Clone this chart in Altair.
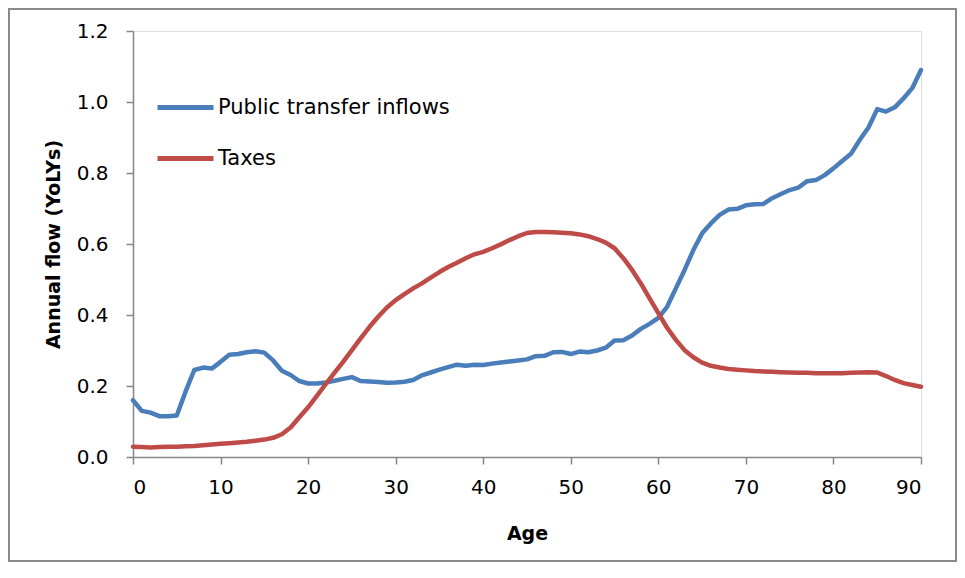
import altair as alt
import pandas as pd

ages = list(range(0, 91))

public_transfer_inflows = [
    0.160, 0.130, 0.125, 0.115, 0.115, 0.117, 0.184, 0.245, 0.252, 0.249,
    0.268, 0.288, 0.290, 0.295, 0.298, 0.294, 0.272, 0.243, 0.231, 0.214,
    0.207, 0.207, 0.210, 0.215, 0.220, 0.225, 0.214, 0.213, 0.211, 0.209,
    0.210, 0.212, 0.217, 0.230, 0.238, 0.246, 0.253, 0.260, 0.257, 0.260,
    0.259, 0.263, 0.266, 0.269, 0.272, 0.275, 0.284, 0.285, 0.295, 0.296,
    0.290, 0.297, 0.295, 0.300, 0.308, 0.328, 0.329, 0.342, 0.361, 0.375,
    0.392, 0.423, 0.475, 0.527, 0.583, 0.630, 0.658, 0.682, 0.697, 0.699,
    0.709, 0.712, 0.713, 0.729, 0.741, 0.752, 0.759, 0.777, 0.780, 0.794,
    0.813, 0.834, 0.854, 0.893, 0.928, 0.980, 0.973, 0.985, 1.010, 1.039,
    1.090,
]

taxes = [
    0.029, 0.028, 0.027, 0.028, 0.029, 0.029, 0.030, 0.031, 0.033, 0.035,
    0.037, 0.039, 0.041, 0.043, 0.046, 0.049, 0.054, 0.064, 0.083, 0.112,
    0.140, 0.172, 0.205, 0.237, 0.268, 0.301, 0.334, 0.366, 0.395, 0.421,
    0.442, 0.459, 0.475, 0.489, 0.505, 0.521, 0.535, 0.547, 0.560, 0.571,
    0.578, 0.588, 0.599, 0.611, 0.622, 0.631, 0.634, 0.634, 0.633, 0.632,
    0.630, 0.627, 0.622, 0.614, 0.604, 0.588, 0.560, 0.527, 0.489, 0.447,
    0.405, 0.364, 0.330, 0.301, 0.281, 0.266, 0.257, 0.252, 0.248, 0.246,
    0.244, 0.242, 0.241, 0.240, 0.239, 0.238, 0.237, 0.237, 0.236, 0.236,
    0.236, 0.236, 0.237, 0.238, 0.239, 0.238, 0.228, 0.217, 0.208, 0.203,
    0.198,
]

series_names = ["Public transfer inflows", "Taxes"]
series_colors = ["#4A7EBB", "#BE4B48"]
x_ticks = [0, 10, 20, 30, 40, 50, 60, 70, 80, 90]
y_ticks = [0.0, 0.2, 0.4, 0.6, 0.8, 1.0, 1.2]

df = pd.concat([
    pd.DataFrame({"Age": ages, "value": public_transfer_inflows, "series": series_names[0]}),
    pd.DataFrame({"Age": ages, "value": taxes, "series": series_names[1]}),
])

FONT = "DejaVu Sans"
AXIS_GRAY = "#868686"

lines = alt.Chart(df).mark_line(
    strokeWidth=4.5, strokeJoin="round", strokeCap="round"
).encode(
    x=alt.X(
        "Age:Q",
        scale=alt.Scale(domain=[0, 90], nice=False, zero=False),
        axis=alt.Axis(
            values=x_ticks, format="d", grid=False, title="Age",
            domainColor=AXIS_GRAY, tickColor=AXIS_GRAY, domainWidth=1.5, tickWidth=1.5,
            tickSize=7, labelPadding=13, labelFont=FONT, labelFontSize=20,
            labelColor="#000000", titleFont=FONT, titleFontSize=19, titleFontWeight="bold",
            titleColor="#000000", titleX=394, titleY=82, titleBaseline="alphabetic",
            titleAlign="center",
        ),
    ),
    y=alt.Y(
        "value:Q",
        scale=alt.Scale(domain=[0, 1.2], nice=False),
        axis=alt.Axis(
            values=y_ticks, format=".1f", grid=False, title="Annual flow (YoLYs)",
            domainColor=AXIS_GRAY, tickColor=AXIS_GRAY, domainWidth=1.5, tickWidth=1.5,
            tickSize=7, labelPadding=18, labelFont=FONT, labelFontSize=20,
            labelColor="#000000", titleFont=FONT, titleFontSize=19, titleFontWeight="bold",
            titleColor="#000000", titleX=-74, titleY=213, titleAngle=270,
            titleBaseline="alphabetic", titleAlign="center",
        ),
    ),
    color=alt.Color(
        "series:N",
        scale=alt.Scale(domain=series_names, range=series_colors),
        sort=series_names,
        legend=alt.Legend(
            title=None, orient="none", legendX=22, legendY=46,
            symbolType="stroke", symbolSize=3136, symbolStrokeWidth=5,
            labelFont=FONT, labelFontSize=21, labelColor="#000000",
            labelOffset=2, rowPadding=10, labelLimit=0,
        ),
    ),
    detail="series:N",
)

frame = alt.Chart(pd.DataFrame({"k": [0]})).mark_rect(
    fill=None, stroke="#8a8a8a", strokeWidth=2
).encode(
    x=alt.value(-124), x2=alt.value(823), y=alt.value(-22), y2=alt.value(530)
)

chart = alt.layer(frame, lines).properties(
    width=788, height=426,
    autosize=alt.AutoSizeParams(type="none"),
    padding={"left": 125, "top": 23, "right": 36, "bottom": 105},
).configure_view(stroke=None).configure(background="#ffffff")

chart.save("out.html", embed_options={"renderer": "svg", "actions": False})
